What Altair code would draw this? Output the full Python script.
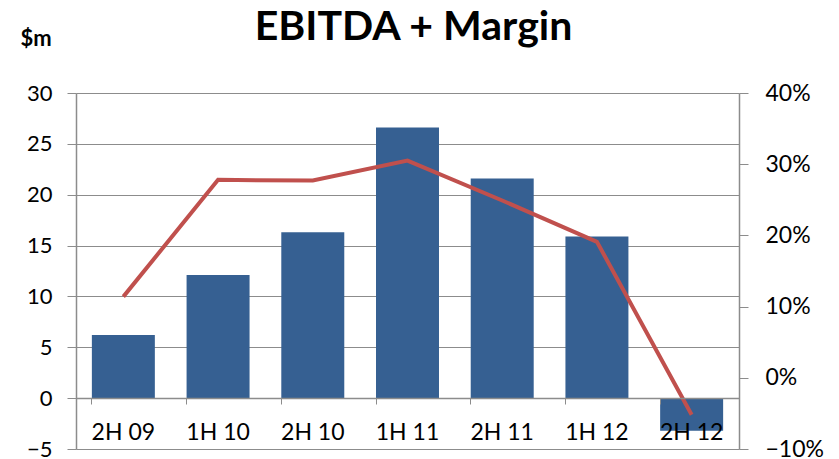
import altair as alt
import pandas as pd

periods = ["2H 09", "1H 10", "2H 10", "1H 11", "2H 11", "1H 12", "2H 12"]
ebitda = [6.2, 12.1, 16.3, 26.6, 21.6, 15.9, -3.2]
margin = [0.114, 0.278, 0.277, 0.305, 0.249, 0.191, -0.052]

df = pd.DataFrame({"period": periods, "ebitda": ebitda, "margin": margin})

FONT = "Lato"
GRAY = "#8C8C8C"

x = alt.X(
    "period:N",
    sort=periods,
    title=None,
    scale=alt.Scale(paddingInner=0.335, paddingOuter=0.1675),
    axis=alt.Axis(
        orient="bottom",
        offset=-51,
        labelAngle=0,
        labelFont=FONT,
        labelFontSize=23,
        labelColor="#000000",
        labelPadding=17,
        tickSize=6,
        tickColor=GRAY,
        domainColor=GRAY,
        domainWidth=1.5,
        bandPosition=0,
        zindex=1,
    ),
)

bars = alt.Chart(df).mark_bar(color="#366092").encode(
    x=x,
    y=alt.Y(
        "ebitda:Q",
        scale=alt.Scale(domain=[-5, 30], nice=False, zero=False),
        axis=alt.Axis(
            orient="left",
            values=[-5, 0, 5, 10, 15, 20, 25, 30],
            grid=True,
            gridColor=GRAY,
            gridWidth=1.2,
            domainColor=GRAY,
            domainWidth=1.5,
            tickColor=GRAY,
            tickSize=9,
            labelFont=FONT,
            labelFontSize=22,
            labelColor="#000000",
            labelPadding=15,
            title="$m",
            titleAngle=0,
            titleFont=FONT,
            titleFontSize=22,
            titleFontWeight="bold",
            titleColor="#000000",
            titleAlign="left",
            titleBaseline="middle",
            titleX=-56,
            titleY=-55,
        ),
    ),
)

line = alt.Chart(df).mark_line(color="#C0504D", strokeWidth=4).encode(
    x=alt.X("period:N", sort=periods),
    y=alt.Y(
        "margin:Q",
        scale=alt.Scale(domain=[-0.1, 0.4], nice=False, zero=False),
        axis=alt.Axis(
            orient="right",
            format=".0%",
            values=[-0.1, 0, 0.1, 0.2, 0.3, 0.4],
            grid=False,
            domainColor=GRAY,
            domainWidth=1.5,
            tickColor=GRAY,
            tickSize=9,
            labelFont=FONT,
            labelFontSize=23,
            labelColor="#000000",
            labelPadding=17,
            title=None,
        ),
    ),
)

chart = (
    alt.layer(bars, line)
    .resolve_scale(y="independent")
    .properties(
        width=663,
        height=356,
        autosize=alt.AutoSizeParams(type="none"),
        padding={"left": 68, "top": 85, "right": 92, "bottom": 10},
        title=alt.TitleParams(
            "EBITDA + Margin",
            font=FONT,
            fontSize=41,
            fontWeight="bold",
            color="#000000",
            anchor="middle",
            offset=-22,
            dx=6,
        ),
    )
    .configure_view(stroke=None)
    .configure(background="white")
)

chart.save("out.html", embed_options={"renderer": "svg", "actions": False})
